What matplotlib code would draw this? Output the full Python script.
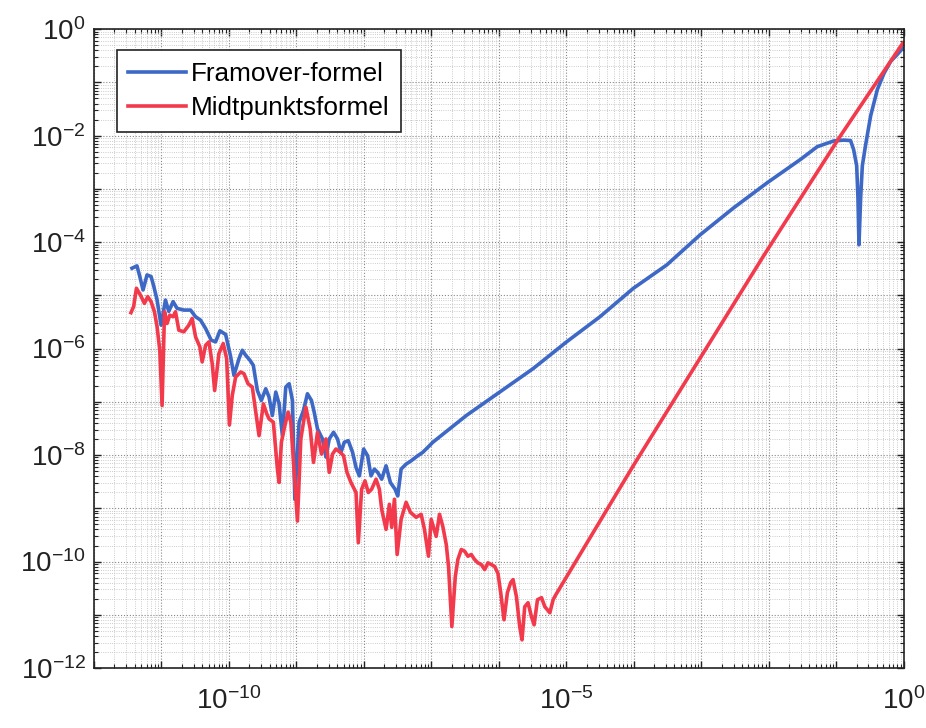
import numpy as np
import matplotlib
matplotlib.use("Agg")
import matplotlib.pyplot as plt
from matplotlib.ticker import FixedLocator, FuncFormatter, NullFormatter

# log10 of step size h and of the absolute error
framover_h_exp = [
    -11.437, -11.363, -11.322, -11.273, -11.214, -11.154, -11.114, -11.065, -11.006, -10.941,
    -10.892, -10.828, -10.768, -10.669, -10.569, -10.495, -10.421, -10.346, -10.263, -10.198,
    -10.134, -10.049, -9.975, -9.926, -9.851, -9.802, -9.752, -9.688, -9.639, -9.579,
    -9.520, -9.455, -9.406, -9.357, -9.306, -9.257, -9.208, -9.158, -9.108, -9.059,
    -9.024, -8.960, -8.896, -8.837, -8.777, -8.737, -8.688, -8.614, -8.563, -8.514,
    -8.450, -8.391, -8.340, -8.291, -8.232, -8.168, -8.117, -8.068, -8.004, -7.945,
    -7.895, -7.845, -7.796, -7.737, -7.672, -7.608, -7.538, -7.499, -7.449, -7.375,
    -7.300, -7.202, -7.128, -7.053, -6.979, -6.731, -6.483, -5.988, -5.493, -4.997,
    -4.502, -4.007, -3.511, -3.016, -2.522, -2.025, -1.530, -1.282, -1.036, -0.887,
    -0.788, -0.743, -0.698, -0.679, -0.664, -0.639, -0.614, -0.565, -0.490, -0.391,
    -0.293, -0.193, -0.094, -0.015,
]
framover_err_exp = [
    -4.491, -4.447, -4.642, -4.900, -4.617, -4.647, -4.830, -5.089, -5.560, -5.089,
    -5.302, -5.119, -5.245, -5.277, -5.277, -5.402, -5.466, -5.623, -5.843, -5.874,
    -5.666, -5.736, -6.151, -6.504, -6.189, -6.032, -6.126, -6.221, -6.315, -6.787,
    -6.975, -6.755, -6.911, -7.258, -6.817, -7.038, -7.636, -6.723, -6.660, -6.975,
    -8.830, -7.383, -7.164, -6.849, -6.975, -7.194, -7.509, -7.698, -8.038, -7.698,
    -7.572, -7.698, -7.949, -7.760, -7.730, -7.949, -8.232, -8.391, -7.887, -8.013,
    -8.391, -8.264, -8.326, -8.453, -8.202, -8.515, -8.642, -8.768, -8.264, -8.170,
    -8.108, -8.013, -7.949, -7.855, -7.760, -7.509, -7.258, -6.817, -6.377, -5.874,
    -5.402, -4.868, -4.428, -3.862, -3.358, -2.887, -2.447, -2.208, -2.100, -2.085,
    -2.094, -2.264, -2.566, -3.170, -4.051, -3.170, -2.566, -2.170, -1.623, -1.132,
    -0.830, -0.604, -0.472, -0.358,
]

midtpunkt_h_exp = [
    -11.452, -11.412, -11.371, -11.312, -11.253, -11.204, -11.154, -11.104, -11.065, -11.025,
    -10.991, -10.955, -10.917, -10.877, -10.828, -10.792, -10.743, -10.669, -10.594, -10.545,
    -10.495, -10.431, -10.397, -10.346, -10.297, -10.248, -10.212, -10.149, -10.085, -10.034,
    -9.993, -9.951, -9.901, -9.826, -9.777, -9.718, -9.654, -9.603, -9.554, -9.490,
    -9.440, -9.406, -9.342, -9.282, -9.257, -9.223, -9.172, -9.123, -9.083, -9.034,
    -8.985, -8.935, -8.860, -8.796, -8.747, -8.688, -8.629, -8.563, -8.514, -8.465,
    -8.415, -8.351, -8.302, -8.251, -8.192, -8.117, -8.083, -8.034, -7.984, -7.935,
    -7.886, -7.820, -7.771, -7.737, -7.672, -7.623, -7.588, -7.548, -7.508, -7.449,
    -7.375, -7.311, -7.226, -7.152, -7.103, -7.043, -7.003, -6.929, -6.880, -6.831,
    -6.780, -6.746, -6.697, -6.646, -6.608, -6.557, -6.508, -6.459, -6.409, -6.360,
    -6.311, -6.260, -6.211, -6.162, -6.111, -6.062, -6.013, -5.973, -5.924, -5.874,
    -5.825, -5.790, -5.740, -5.691, -5.657, -5.617, -5.568, -5.517, -5.478, -5.428,
    -5.368, -5.319, -5.245, -5.196, -5.156, -4.012, -2.080, -0.936, -0.015,
]
midtpunkt_err_exp = [
    -5.326, -5.208, -4.868, -4.994, -5.151, -5.025, -5.119, -5.308, -5.591, -6.032,
    -7.070, -5.308, -5.528, -5.372, -5.402, -5.308, -5.655, -5.685, -5.560, -5.434,
    -5.779, -5.968, -6.251, -5.938, -5.874, -6.283, -6.787, -6.094, -5.906, -6.189,
    -7.434, -6.881, -6.534, -6.440, -6.472, -6.660, -6.723, -7.194, -7.636, -7.038,
    -7.226, -7.321, -7.383, -8.264, -8.515, -7.760, -7.447, -7.194, -7.383, -8.326,
    -9.240, -7.698, -7.100, -7.509, -8.138, -7.572, -7.981, -7.698, -8.326, -7.981,
    -7.887, -7.949, -8.013, -8.326, -8.515, -8.704, -9.647, -8.642, -8.485, -8.704,
    -8.642, -8.453, -8.642, -9.019, -9.396, -8.925, -9.358, -8.830, -9.868, -9.208,
    -8.887, -9.075, -9.170, -9.113, -9.396, -9.900, -9.208, -9.528, -9.113, -9.340,
    -9.679, -10.094, -11.221, -10.283, -9.962, -9.774, -9.806, -9.900, -9.868, -9.962,
    -10.025, -10.057, -10.151, -10.025, -10.057, -10.094, -10.226, -10.585, -11.094, -10.585,
    -10.396, -10.340, -10.660, -11.226, -11.472, -10.849, -10.774, -11.038, -11.189, -10.717,
    -10.679, -10.849, -10.962, -10.717, -10.623, -8.208, -4.264, -2.000, -0.264,
]

x_labels = {-10: "-10", -5: "-5", 0: "0"}
y_labels = {0: "0", -2: "-2", -4: "-4", -6: "-6", -8: "-8", -10: "-10", -12: "-12"}

plt.rcParams["font.family"] = ["Liberation Sans", "DejaVu Sans"]
plt.rcParams["axes.unicode_minus"] = False
plt.rcParams["mathtext.fontset"] = "custom"
plt.rcParams["mathtext.rm"] = "Liberation Sans"
plt.rcParams["mathtext.it"] = "Liberation Sans"

fig = plt.figure(figsize=(9.26, 7.28), dpi=100)
ax = fig.add_axes([0.1015, 0.0824, 0.8745, 0.8776])

ax.loglog(10.0 ** np.array(framover_h_exp), 10.0 ** np.array(framover_err_exp),
          color="#3d68c6", lw=2.6, label="Framover-formel")
ax.loglog(10.0 ** np.array(midtpunkt_h_exp), 10.0 ** np.array(midtpunkt_err_exp),
          color="#f23a4c", lw=2.6, label="Midtpunktsformel")

ax.set_xlim(1e-12, 1e0)
ax.set_ylim(1e-12, 1e0)

ax.xaxis.set_major_locator(FixedLocator([10.0 ** k for k in range(-12, 1)]))
ax.yaxis.set_major_locator(FixedLocator([10.0 ** k for k in range(-12, 1)]))
ax.xaxis.set_minor_locator(FixedLocator([m * 10.0 ** k for k in range(-12, 0) for m in range(2, 10)]))
ax.yaxis.set_minor_locator(FixedLocator([m * 10.0 ** k for k in range(-12, 0) for m in range(2, 10)]))


def fmt(labels):
    def f(v, pos):
        k = int(round(np.log10(v)))
        if k in labels:
            return r"$\mathdefault{10^{%s}}$" % labels[k]
        return ""
    return f


ax.xaxis.set_major_formatter(FuncFormatter(fmt(x_labels)))
ax.yaxis.set_major_formatter(FuncFormatter(fmt(y_labels)))
ax.xaxis.set_minor_formatter(NullFormatter())
ax.yaxis.set_minor_formatter(NullFormatter())

ax.tick_params(which="both", direction="in", top=True, right=True, labelsize=20, colors="#222222")
ax.tick_params(which="major", length=5, width=1)
ax.tick_params(which="minor", length=3, width=0.8)
ax.tick_params(axis="x", pad=14)
ax.tick_params(axis="y", pad=6)

ax.grid(True, which="major", ls=":", lw=0.8, color="#888888")
ax.grid(True, which="minor", ls=":", lw=0.6, color="#bbbbbb")
for s in ax.spines.values():
    s.set_linewidth(1.2)
    s.set_color("#222222")

leg = ax.legend(loc="upper left", bbox_to_anchor=(0.028, 0.967), borderaxespad=0,
                fontsize=18.8, handlelength=2.2, handletextpad=0.2, fancybox=False,
                framealpha=1, edgecolor="#222222", borderpad=0.45, labelspacing=0.4)
leg.get_frame().set_linewidth(1.2)

fig.savefig("out.png", dpi=100)
